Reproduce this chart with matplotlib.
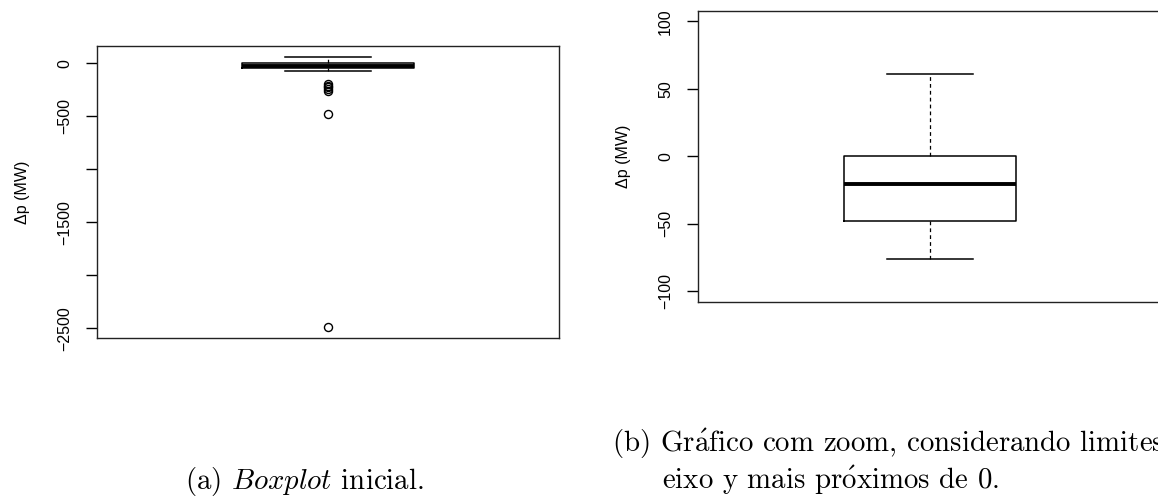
import matplotlib
matplotlib.use("Agg")
import matplotlib.pyplot as plt

# five-number summary of delta p (MW)
stats_lo_whisker = -76
stats_q1 = -48
stats_median = -21
stats_q3 = 0
stats_hi_whisker = 61
outliers = [-195, -212, -228, -245, -262, -475, -2490]

left_ticks = [0, -500, -1000, -1500, -2000, -2500]
left_ticklabels = ["0", "\u2212500", "", "\u22121500", "", "\u22122500"]
right_ticks = [-100, -50, 0, 50, 100]
right_ticklabels = ["\u2212100", "\u221250", "0", "50", "100"]

ylabel = "\u0394p (MW)"
caption_a = r"(a) $\mathit{Boxplot}$ inicial."
caption_b1 = r"(b) Gr$\mathrm{\acute{a}}$fico com zoom, considerando limites do"
caption_b2 = r"eixo y mais pr$\mathrm{\acute{o}}$ximos de 0."

plt.rcParams["font.family"] = ["Liberation Sans", "DejaVu Sans"]
plt.rcParams["mathtext.fontset"] = "cm"

stats = [dict(whislo=stats_lo_whisker, q1=stats_q1, med=stats_median,
              q3=stats_q3, whishi=stats_hi_whisker, fliers=outliers)]

fig = plt.figure(figsize=(11.58, 4.96), dpi=100)
ax1 = fig.add_axes([97 / 1158, 1 - 338 / 496, 462 / 1158, 292 / 496])
ax2 = fig.add_axes([698 / 1158, 1 - 302 / 496, 464 / 1158, 291 / 496])


def draw(ax, fliers, xpad):
    ax.bxp(stats, positions=[1], widths=0.4, showfliers=fliers,
           boxprops=dict(color="black", lw=1.1),
           medianprops=dict(color="black", lw=2.8, solid_capstyle="butt"),
           whiskerprops=dict(color="black", lw=0.9, linestyle=(0, (3, 2.5))),
           capprops=dict(color="black", lw=1.1),
           capwidths=0.2,
           flierprops=dict(marker="o", markerfacecolor="none",
                           markeredgecolor="black", markersize=5.8, markeredgewidth=1))
    ax.set_xlim(1 - xpad, 1 + xpad)
    ax.set_xticks([])
    for s in ax.spines.values():
        s.set_linewidth(1)
        s.set_color("#222222")
    ax.tick_params(axis="y", direction="out", length=8, width=1, pad=10,
                   labelsize=11.5, colors="black")
    ax.set_ylabel(ylabel, fontsize=11.5)
    ax.yaxis.set_label_coords(-0.145, 0.5)


draw(ax1, True, 0.54)
ax1.set_ylim(-2592, 163)
ax1.set_yticks(left_ticks)
ax1.set_yticklabels(left_ticklabels, rotation=90, va="center")

draw(ax2, False, 0.54 * 464 / 462)
ax2.set_ylim(-108.1, 107.6)
ax2.set_yticks(right_ticks)
ax2.set_yticklabels(right_ticklabels, rotation=90, va="center")
ax2.yaxis.set_label_coords(-0.145 * 462 / 464, 0.5)

cap_font = dict(family="cmr10", fontsize=20.8)
fig.text(185 / 1158, 7 / 496, caption_a, ha="left", va="baseline", **cap_font)
fig.text(612 / 1158, 44 / 496, caption_b1, ha="left", va="baseline", **cap_font)
fig.text(662 / 1158, 7 / 496, caption_b2, ha="left", va="baseline", **cap_font)

fig.savefig("out.png", dpi=100)
